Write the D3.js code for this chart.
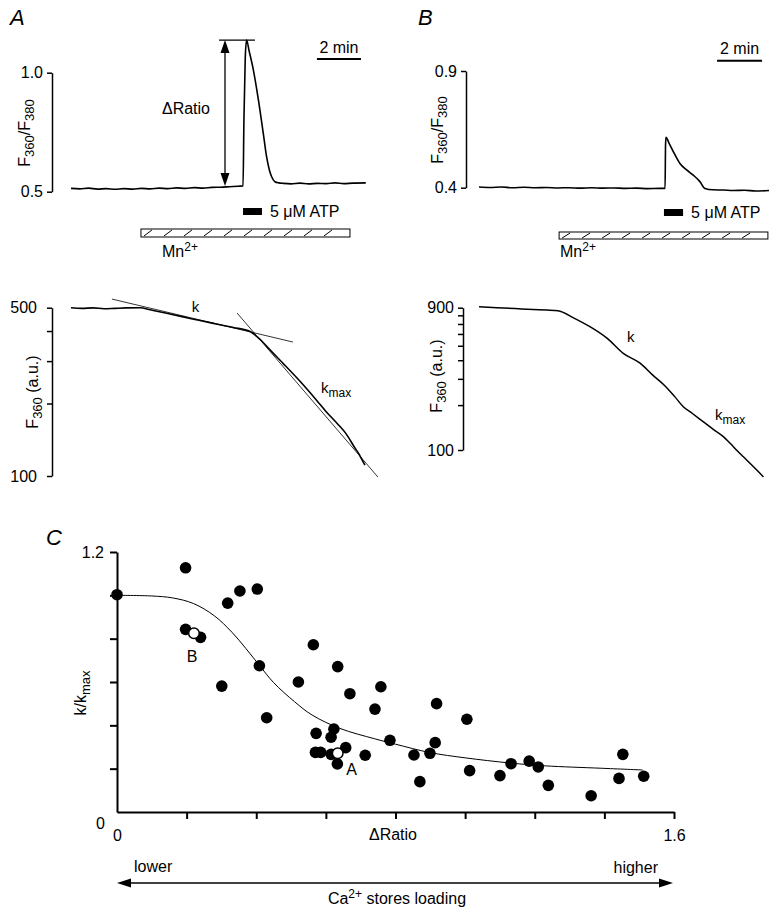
<!DOCTYPE html>
<html><head><meta charset="utf-8">
<script src="https://cdn.jsdelivr.net/npm/d3@7"></script>
<style>
body{margin:0;background:#fff;}
svg text{font-family:"Liberation Sans",Arial,Helvetica,sans-serif;fill:#000;}
</style></head><body>
<svg id="fig" width="779" height="918"></svg>
<script>
// ---------- DATA ----------
// Panel A, top: F360/F380 ratio vs time (min)
const ratioA_time  = [0,0.4,0.8,1.2,1.6,2.0,2.4,2.8,3.2,3.6,4.0,4.4,4.8,5.2,5.6,6.0,6.4,6.8,7.2,7.6,7.82,7.86,7.92,7.98,8.1,8.29,8.52,8.74,8.89,9.02,9.12,9.27,9.45,9.65,10.0,10.4,10.8,11.2,11.6,12.0,12.4,12.8,13.4];
const ratioA_value = [0.514,0.512,0.515,0.511,0.513,0.510,0.513,0.511,0.514,0.512,0.515,0.513,0.516,0.514,0.517,0.515,0.518,0.519,0.521,0.523,0.524,0.80,1.06,1.137,1.09,1.011,0.885,0.745,0.647,0.59,0.563,0.542,0.537,0.535,0.533,0.536,0.533,0.535,0.534,0.537,0.534,0.536,0.537];
// Panel B, top
const ratioB_time  = [0,0.5,1,1.5,2,2.5,3,3.5,4,4.5,5,5.5,6,6.5,7,7.5,8,8.27,8.29,8.31,8.45,8.64,8.93,9.23,9.52,9.82,10.04,10.4,10.86,11.3,11.8,12.3,12.89];
const ratioB_value = [0.403,0.401,0.403,0.400,0.402,0.400,0.401,0.399,0.400,0.398,0.400,0.398,0.399,0.397,0.398,0.396,0.397,0.397,0.58,0.616,0.59,0.554,0.504,0.476,0.454,0.426,0.397,0.391,0.390,0.388,0.389,0.386,0.388];
// Panel A, bottom: F360 (a.u.) quench
const f360A_time  = [0,0.5,1.0,1.5,2.0,2.5,3.14,3.6,4.35,5.1,5.86,6.6,7.38,8.14,8.6,9.1,9.65,10.4,11.17,11.6,12.08,12.5,12.9,13.1,13.2,13.36];
const f360A_value = [500,497,499,495,497,499,500,490,474,458,442,428,414,398,369,330,293,248,206,185,166,150,131,123,118,111];
const fitK_time = [1.86,10.09],  fitK_value = [543,360];
const fitKmax_time = [7.55,13.95], fitKmax_value = [475,99];
// Panel B, bottom
const f360B_time  = [0,0.8,1.6,2.4,3.0,3.51,4.2,4.93,5.7,6.41,7.16,7.7,8.27,8.7,9.08,9.5,9.96,10.4,10.86,11.16,11.5,11.75,12.1,12.4,12.64];
const f360B_value = [912,900,888,876,868,860,770,671,560,445,382,320,269,228,195,175,155,138,123,111,98,90,80,72,66];
// Application periods (min)
const atpA = [7.82,8.68], mnA = [3.18,12.68], scaleA = [11.18,13.18];
const atpB = [8.22,9.07], mnB = [3.56,12.84], scaleB = [10.58,12.58];
// Tick values
const ratioA_ticks = [0.5,1.0], ratioB_ticks = [0.4,0.9];
const f360A_ticks = [100,200,300,400,500], f360A_labels = ["100","","","","500"];
const f360B_ticks = [100,200,300,400,500,600,700,800,900], f360B_labels = ["100","","","","","","","","900"];
// Panel C: k/kmax vs ΔRatio
const dRatio = [0.0,0.197,0.318,0.353,0.403,0.197,0.240,0.301,0.409,0.430,0.521,0.564,0.634,0.669,0.758,0.741,0.572,0.623,0.615,0.570,0.585,0.615,0.657,0.633,0.713,0.784,0.853,0.870,0.899,0.914,0.918,1.005,1.013,1.100,1.132,1.184,1.210,1.239,1.362,1.453,1.442,1.513];
const kRatio = [1.003,1.127,0.964,1.02,1.029,0.843,0.806,0.581,0.675,0.435,0.600,0.772,0.671,0.546,0.578,0.475,0.363,0.383,0.345,0.275,0.275,0.266,0.297,0.222,0.262,0.331,0.263,0.140,0.271,0.320,0.500,0.428,0.191,0.168,0.223,0.235,0.208,0.123,0.075,0.266,0.155,0.165];
const openLabels = ["B","A"], open_dRatio = [0.221,0.634], open_kRatio = [0.825,0.271];
const fit_dRatio = [0,0.1,0.16,0.22,0.28,0.33,0.37,0.41,0.45,0.51,0.56,0.64,0.74,0.8,0.9,1.0,1.13,1.23,1.39,1.51];
const fit_kRatio = [1.0,0.997,0.988,0.962,0.905,0.83,0.755,0.675,0.597,0.509,0.448,0.386,0.338,0.313,0.274,0.250,0.226,0.213,0.202,0.194];
const cXTicks = [0,0.2,0.4,0.6,0.8,1.0,1.2,1.4,1.6], cXLabels = ["0","","","","","","","","1.6"];
const cYTicks = [0,0.2,0.4,0.6,0.8,1.0,1.2], cYLabels = ["0","","","","","","1.2"];

// ---------- DRAW ----------
const svg = d3.select("#fig");
const FS = 16, CFS = 16;

function styleAxis(g, sw, fs){
  g.selectAll("path.domain").attr("stroke","#000").attr("stroke-width",sw);
  g.selectAll(".tick line").attr("stroke","#000").attr("stroke-width",sw);
  g.selectAll(".tick text").attr("font-size",fs).attr("font-family","Liberation Sans, Arial, sans-serif").attr("fill","#000");
}
function hatchBar(x0,x1,y,h){
  svg.append("rect").attr("x",x0).attr("y",y).attr("width",x1-x0).attr("height",h)
    .attr("fill","#fff").attr("stroke","#000").attr("stroke-width",1);
  for(let x=x0+3;x+8<x1;x+=20){
    svg.append("line").attr("x1",x).attr("y1",y+h-1).attr("x2",x+8).attr("y2",y+1)
      .attr("stroke","#000").attr("stroke-width",1);
  }
}
function rotLabel(x,y,parts){
  const t = svg.append("text").attr("transform",`translate(${x},${y}) rotate(-90)`)
    .attr("text-anchor","middle").attr("font-size",FS);
  parts.forEach(p=>{
    const ts=t.append("tspan").text(p[0]);
    if(p[1]==="sub") ts.attr("font-size",13).attr("dy",4);
    else if(p[1]==="up") ts.attr("dy",-4);
  });
  return t;
}
function txt(x,y,s,opt={}){
  const t=svg.append("text").attr("x",x).attr("y",y).attr("font-size",opt.fs||FS)
    .attr("text-anchor",opt.anchor||"start").text(s);
  if(opt.italic) t.attr("font-style","italic");
  return t;
}
function subText(x,y,main,sub,fs){
  const t=svg.append("text").attr("x",x).attr("y",y).attr("font-size",fs);
  t.append("tspan").text(main);
  t.append("tspan").attr("font-size",fs-3).attr("dy",4).text(sub);
}
function supText(x,y,pre,sup,post,fs,anchor){
  const t=svg.append("text").attr("x",x).attr("y",y).attr("font-size",fs).attr("text-anchor",anchor||"start");
  t.append("tspan").text(pre);
  t.append("tspan").attr("font-size",fs-4).attr("dy",-6).text(sup);
  if(post) t.append("tspan").attr("dy",6).text(post);
}
const smooth = d3.curveMonotoneX;

// Panel letters
txt(10,25,"A",{fs:22,italic:true});
txt(418,25,"B",{fs:22,italic:true});
txt(46,545,"C",{fs:22,italic:true});

// ---- Panel A top ----
const xA = d3.scaleLinear().domain([0,13.4]).range([71,365.8]);
const yA = d3.scaleLinear().domain([0.5,1.0]).range([191.7,72.7]);
const gA = svg.append("g").attr("transform","translate(52,0)")
  .call(d3.axisLeft(yA).tickValues(ratioA_ticks).tickFormat(d3.format(".1f")).tickSize(5).tickPadding(4).tickSizeOuter(0));
styleAxis(gA,1.5,FS);
svg.append("path").datum(d3.zip(ratioA_time,ratioA_value))
  .attr("d",d3.line().curve(smooth).x(d=>xA(d[0])).y(d=>yA(d[1])))
  .attr("fill","none").attr("stroke","#000").attr("stroke-width",1.6);
rotLabel(30,133,[["F"],["360","sub"],["/F","up"],["380","sub"]]);
// ΔRatio annotation
{
  const peak=d3.max(ratioA_value), base=ratioA_value[20];
  const xa=xA(7.0), yt=yA(peak), yb=yA(base);
  svg.append("line").attr("x1",xA(6.73)).attr("x2",xA(8.36)).attr("y1",yt).attr("y2",yt).attr("stroke","#000").attr("stroke-width",1.3);
  svg.append("line").attr("x1",xa).attr("x2",xa).attr("y1",yt+8).attr("y2",yb-8).attr("stroke","#000").attr("stroke-width",1.3);
  svg.append("path").attr("d",`M${xa},${yt}L${xa-4.5},${yt+13}L${xa+4.5},${yt+13}Z`).attr("fill","#000");
  svg.append("path").attr("d",`M${xa},${yb}L${xa-4.5},${yb-13}L${xa+4.5},${yb-13}Z`).attr("fill","#000");
  txt(186,114,"\u0394Ratio",{anchor:"middle"});
}
// scale bar, ATP, Mn
svg.append("line").attr("x1",xA(scaleA[0])).attr("x2",xA(scaleA[1])).attr("y1",59).attr("y2",59).attr("stroke","#000").attr("stroke-width",2);
txt((xA(scaleA[0])+xA(scaleA[1]))/2,53,"2 min",{anchor:"middle"});
svg.append("rect").attr("x",xA(atpA[0])).attr("y",208).attr("width",xA(atpA[1])-xA(atpA[0])).attr("height",7).attr("fill","#000");
txt(xA(atpA[1])+8,217,"5 \u03BCM ATP");
hatchBar(xA(mnA[0]),xA(mnA[1]),229,8);
supText(162,257,"Mn","2+",null,FS);

// ---- Panel B top ----
const xB = d3.scaleLinear().domain([0,12.9]).range([479,769.25]);
const yB = d3.scaleLinear().domain([0.4,0.9]).range([187.7,71]);
const gB = svg.append("g").attr("transform","translate(466,0)")
  .call(d3.axisLeft(yB).tickValues(ratioB_ticks).tickFormat(d3.format(".1f")).tickSize(5).tickPadding(4).tickSizeOuter(0));
styleAxis(gB,1.5,FS);
svg.append("path").datum(d3.zip(ratioB_time,ratioB_value))
  .attr("d",d3.line().curve(smooth).x(d=>xB(d[0])).y(d=>yB(d[1])))
  .attr("fill","none").attr("stroke","#000").attr("stroke-width",1.6);
rotLabel(443,130,[["F"],["360","sub"],["/F","up"],["380","sub"]]);
svg.append("line").attr("x1",xB(scaleB[0])).attr("x2",xB(scaleB[1])).attr("y1",60.7).attr("y2",60.7).attr("stroke","#000").attr("stroke-width",2);
txt((xB(scaleB[0])+xB(scaleB[1]))/2,54,"2 min",{anchor:"middle"});
svg.append("rect").attr("x",xB(atpB[0])).attr("y",209).attr("width",xB(atpB[1])-xB(atpB[0])).attr("height",7).attr("fill","#000");
txt(xB(atpB[1])+8,218,"5 \u03BCM ATP");
hatchBar(xB(mnB[0]),xB(mnB[1]),232,7);
supText(560,257,"Mn","2+",null,FS);

// ---- Panel A bottom ----
const yLA = d3.scaleLog().domain([100,500]).range([476,307.7]);
const gLA = svg.append("g").attr("transform","translate(52,0)")
  .call(d3.axisLeft(yLA).tickValues(f360A_ticks).tickFormat((d,i)=>f360A_labels[i]).tickSize(5).tickPadding(10).tickSizeOuter(0));
styleAxis(gLA,1.5,FS);
const lineLA = d3.line().x(d=>xA(d[0])).y(d=>yLA(d[1]));
svg.append("path").datum(d3.zip(f360A_time,f360A_value)).attr("d",lineLA.curve(smooth))
  .attr("fill","none").attr("stroke","#000").attr("stroke-width",1.6);
const fitLine = d3.line().x(d=>xA(d[0])).y(d=>yLA(d[1]));
svg.append("path").datum(d3.zip(fitK_time,fitK_value)).attr("d",fitLine)
  .attr("fill","none").attr("stroke","#000").attr("stroke-width",0.8);
svg.append("path").datum(d3.zip(fitKmax_time,fitKmax_value)).attr("d",fitLine)
  .attr("fill","none").attr("stroke","#000").attr("stroke-width",0.8);
rotLabel(38,392,[["F"],["360","sub"],[" (a.u.)","up"]]);
txt(195.5,312,"k",{fs:15,anchor:"middle"});
subText(321,393,"k","max",15);

// ---- Panel B bottom ----
const yLB = d3.scaleLog().domain([100,900]).range([450,307.7]);
const gLB = svg.append("g").attr("transform","translate(463,0)")
  .call(d3.axisLeft(yLB).tickValues(f360B_ticks).tickFormat((d,i)=>f360B_labels[i]).tickSize(5).tickPadding(4).tickSizeOuter(0));
styleAxis(gLB,1.5,FS);
svg.append("path").datum(d3.zip(f360B_time,f360B_value))
  .attr("d",d3.line().curve(smooth).x(d=>xB(d[0])).y(d=>yLB(d[1])))
  .attr("fill","none").attr("stroke","#000").attr("stroke-width",1.5);
rotLabel(442,376,[["F"],["360","sub"],[" (a.u.)","up"]]);
txt(627,342,"k",{fs:15});
subText(715,420,"k","max",15);

// ---- Panel C ----
const xC = d3.scaleLinear().domain([0,1.6]).range([117,674]);
const yC = d3.scaleLinear().domain([0,1.2]).range([812,552]);
const gCx = svg.append("g").attr("transform","translate(0,812)")
  .call(d3.axisBottom(xC).tickValues(cXTicks).tickFormat((d,i)=>cXLabels[i]).tickSize(7).tickPadding(11).tickSizeOuter(0));
styleAxis(gCx,2,CFS);
gCx.selectAll(".tick").filter(d=>d===0).select("line").attr("y2",0);
const gCy = svg.append("g").attr("transform","translate(117,0)")
  .call(d3.axisLeft(yC).tickValues(cYTicks).tickFormat((d,i)=>cYLabels[i]).tickSize(7).tickPadding(6).tickSizeOuter(0));
styleAxis(gCy,2,CFS);
gCy.selectAll(".tick").filter(d=>d===0).select("line").attr("x2",0);
gCy.selectAll(".tick").filter(d=>d===0).select("text").attr("dy","1.0em").attr("x",-12);
// fit curve
svg.append("path").datum(d3.zip(fit_dRatio,fit_kRatio))
  .attr("d",d3.line().curve(d3.curveCatmullRom.alpha(0.5)).x(d=>xC(d[0])).y(d=>yC(d[1])))
  .attr("fill","none").attr("stroke","#000").attr("stroke-width",1);
svg.append("g").selectAll("circle").data(d3.zip(dRatio,kRatio)).join("circle")
  .attr("cx",d=>xC(d[0])).attr("cy",d=>yC(d[1])).attr("r",5.8).attr("fill","#000");
svg.append("g").selectAll("circle").data(d3.zip(open_dRatio,open_kRatio)).join("circle")
  .attr("cx",d=>xC(d[0])).attr("cy",d=>yC(d[1])).attr("r",5.3).attr("fill","#fff").attr("stroke","#000").attr("stroke-width",1.5);
txt(192,662,openLabels[0],{fs:CFS,anchor:"middle"});
txt(351.5,775,openLabels[1],{fs:CFS,anchor:"middle"});
// y label
{
  const t = svg.append("text").attr("transform","translate(86,693) rotate(-90)").attr("text-anchor","middle").attr("font-size",CFS);
  t.append("tspan").text("k/k");
  t.append("tspan").attr("font-size",13).attr("dy",4).text("max");
}
txt(393,840,"\u0394Ratio",{fs:CFS,anchor:"middle"});
txt(134,872,"lower",{fs:CFS});
txt(658,873,"higher",{fs:CFS,anchor:"end"});
// double arrow
svg.append("line").attr("x1",128).attr("x2",662).attr("y1",883).attr("y2",883).attr("stroke","#000").attr("stroke-width",1.3);
svg.append("path").attr("d","M117,883L131,878.5L131,887.5Z").attr("fill","#000");
svg.append("path").attr("d","M673,883L659,878.5L659,887.5Z").attr("fill","#000");
supText(397,904,"Ca","2+"," stores loading",CFS,"middle");
</script></body></html>
